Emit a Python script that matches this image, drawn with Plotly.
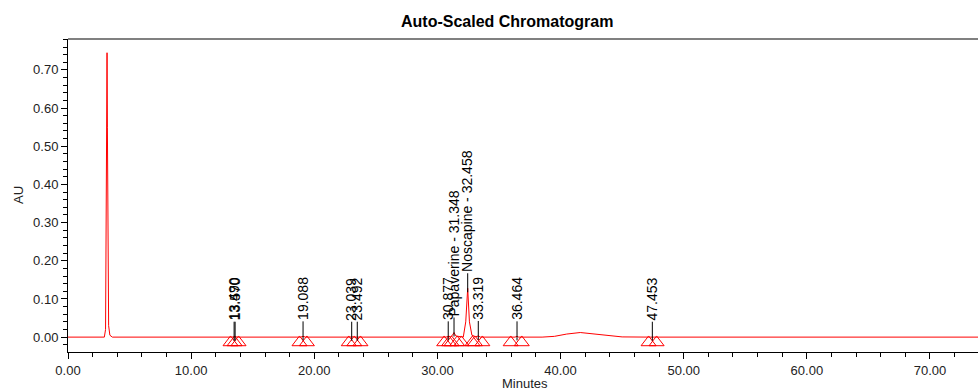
import plotly.graph_objects as go

# ---- data ----
time_min = [0.0, 2.95, 3.05, 3.10, 3.14, 3.17, 3.20, 3.24, 3.30, 3.40, 3.60,
            13.30, 13.49, 13.57, 13.80,
            18.90, 19.088, 19.30,
            22.90, 23.039, 23.20, 23.492, 23.70,
            30.70, 30.877, 31.05, 31.20, 31.348, 31.50, 32.10, 32.30, 32.458, 32.60, 32.80,
            33.10, 33.319, 33.50,
            36.30, 36.464, 36.60,
            38.50, 39.50, 40.50, 41.60, 42.70, 43.80, 45.00,
            47.30, 47.453, 47.60, 73.9]
absorbance = [0.0, 0.0, 0.02, 0.25, 0.68, 0.745, 0.55, 0.20, 0.03, 0.005, 0.0,
              0.0, 0.001, 0.001, 0.0,
              0.0, 0.002, 0.0,
              0.0, 0.001, 0.0, 0.001, 0.0,
              0.0, 0.002, 0.001, 0.004, 0.012, 0.003, 0.0, 0.04, 0.128, 0.04, 0.005,
              0.001, 0.003, 0.0,
              0.0, 0.002, 0.0,
              0.0, 0.002, 0.008, 0.012, 0.008, 0.003, 0.0005,
              0.0, 0.001, 0.0, 0.0]

peak_rt = [13.490, 13.570, 19.088, 23.039, 23.492, 30.877, 31.348, 32.458, 33.319, 36.464, 47.453]
peak_height = [0.001, 0.001, 0.002, 0.001, 0.001, 0.002, 0.012, 0.128, 0.003, 0.002, 0.001]
peak_labels = ["13.490", "13.570", "19.088", "23.039", "23.492", "30.877",
               "Papaverine - 31.348", "Noscapine - 32.458", "33.319", "36.464", "47.453"]

# peak start / end marks (triangles)
peak_bounds = [13.20, 13.53, 13.85, 18.80, 19.40, 22.80, 23.25, 23.75,
               30.55, 30.95, 31.15, 31.60, 31.95, 32.85, 33.05, 33.65,
               35.95, 36.85, 47.15, 47.80]

x_ticks = [0, 10, 20, 30, 40, 50, 60, 70]
y_ticks = [0.0, 0.1, 0.2, 0.3, 0.4, 0.5, 0.6, 0.7]

fig = go.Figure()
fig.add_trace(go.Scatter(x=time_min, y=absorbance, mode="lines",
                         line=dict(color="#ff0000", width=1), hoverinfo="skip",
                         showlegend=False))
fig.add_trace(go.Scatter(x=peak_bounds, y=[-0.014] * len(peak_bounds), mode="markers",
                         marker=dict(symbol="triangle-up-open", size=13,
                                     color="#ff0000", line=dict(width=1)),
                         hoverinfo="skip", showlegend=False))

for rt, h, lab in zip(peak_rt, peak_height, peak_labels):
    fig.add_shape(type="line", xref="x", yref="y", x0=rt, x1=rt,
                  ysizemode="pixel", yanchor=h, y0=-4, y1=15,
                  line=dict(color="black", width=1))
    fig.add_annotation(x=rt, y=h, text=lab, textangle=-90, showarrow=False,
                       yanchor="bottom", xanchor="center", yshift=14,
                       font=dict(family="Arial", size=14, color="black"))

font = dict(family="Arial", size=13, color="#222222")
fig.update_layout(
    width=978, height=390,
    margin=dict(l=68, r=0, t=39, b=38),
    paper_bgcolor="white", plot_bgcolor="white",
    showlegend=False,
    xaxis=dict(range=[0, 73.9], tickvals=x_ticks,
               ticktext=[f"{v:.2f}" for v in x_ticks],
               ticks="outside", ticklen=6, tickcolor="black", tickwidth=1,
               minor=dict(dtick=2, ticks="outside", ticklen=4, tickcolor="black"),
               showline=True, linecolor="black", linewidth=1,
               showgrid=False, zeroline=False, tickfont=font),
    yaxis=dict(range=[-0.039, 0.781], tickvals=y_ticks,
               ticktext=[f"{v:.2f}" for v in y_ticks],
               ticks="outside", ticklen=6, tickcolor="black", tickwidth=1,
               minor=dict(dtick=0.02, tick0=0, ticks="outside", ticklen=4, tickcolor="black"),
               showline=True, linecolor="black", linewidth=1,
               showgrid=False, zeroline=False, tickfont=font),
)
fig.add_shape(type="line", xref="paper", yref="paper", x0=0, x1=1, y0=1, y1=1,
              line=dict(color="#808080", width=2))
fig.add_annotation(text="<b>Auto-Scaled Chromatogram</b>", xref="paper", yref="paper",
                   x=(507 - 68) / 910, xanchor="center", y=1, yshift=18, yanchor="middle",
                   showarrow=False,
                   font=dict(family="Arial", size=16, color="black"))
fig.add_annotation(text="AU", xref="paper", yref="paper", x=0, xshift=-50, xanchor="center",
                   y=(352 - 195) / 313, yanchor="middle",
                   textangle=-90, showarrow=False,
                   font=dict(family="Arial", size=13, color="#222222"))
fig.add_annotation(text="Minutes", xref="paper", yref="paper", x=(525 - 68) / 910,
                   xanchor="center", y=0, yshift=-31, yanchor="middle", showarrow=False,
                   font=dict(family="Arial", size=13, color="#222222"))

fig.write_html("out.html")
